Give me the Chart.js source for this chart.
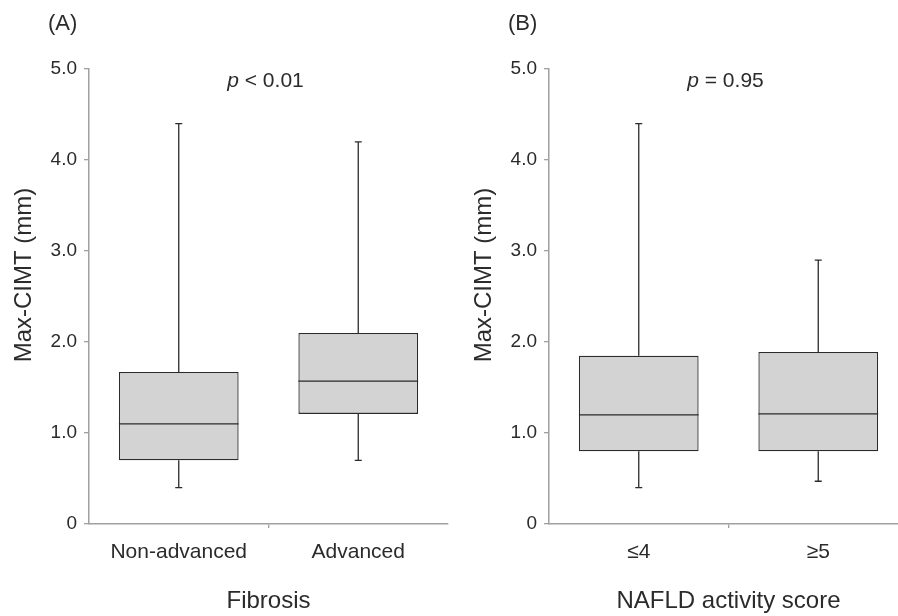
<!DOCTYPE html>
<html>
<head>
<meta charset="utf-8">
<script src="https://cdn.jsdelivr.net/npm/chart.js@4.4.1/dist/chart.umd.min.js"></script>
<style>
  html, body { margin: 0; padding: 0; background: #fff; overflow: hidden; }
  #wrap { position: relative; width: 898px; height: 616px; overflow: hidden; }
  canvas { position: absolute; top: 0; }
</style>
</head>
<body>
<div id="wrap">
  <canvas id="chartA" width="449" height="616" style="left:0"></canvas>
  <canvas id="chartB" width="449" height="616" style="left:460px"></canvas>
</div>
<script>
// Panel A: fibrosis
const categoriesA = ['Non-advanced', 'Advanced'];
const minA = [0.40, 0.70];
const q1A = [0.70, 1.21];
const medA = [1.10, 1.57];
const q3A = [1.67, 2.10];
const maxA = [4.40, 4.20];

// Panel B: NAFLD activity score
const categoriesB = ['≤4', '≥5'];
const minB = [0.40, 0.47];
const q1B = [0.80, 0.80];
const medB = [1.20, 1.21];
const q3B = [1.85, 1.89];
const maxB = [4.40, 2.90];

const yTicks = [0, 1, 2, 3, 4, 5];
const yTickLabels = ['0', '1.0', '2.0', '3.0', '4.0', '5.0'];
const yTitle = 'Max-CIMT (mm)';

const FONT = "'Liberation Sans', Arial, sans-serif";
const INK = '#2b2b2b';
const AXIS = '#a0a0a0';

// whiskers, caps and median line on top of the floating bars
const boxWhisker = {
    id: 'boxWhisker',
    afterDatasetsDraw(chart, args, opts) {
        const ctx = chart.ctx;
        const y = chart.scales.y;
        const meta = chart.getDatasetMeta(0);
        ctx.save();
        ctx.strokeStyle = INK;
        ctx.lineWidth = 1.3;
        meta.data.forEach((bar, i) => {
            const x = bar.x;
            const half = bar.width / 2;
            const yMed = y.getPixelForValue(opts.med[i]);
            const yQ1 = y.getPixelForValue(opts.q1[i]);
            const yQ3 = y.getPixelForValue(opts.q3[i]);
            const yMin = y.getPixelForValue(opts.min[i]);
            const yMax = y.getPixelForValue(opts.max[i]);
            ctx.beginPath();
            ctx.moveTo(x - half, yMed); ctx.lineTo(x + half, yMed);
            ctx.moveTo(x, yQ3); ctx.lineTo(x, yMax);
            ctx.moveTo(x - 3.5, yMax); ctx.lineTo(x + 3.5, yMax);
            ctx.moveTo(x, yQ1); ctx.lineTo(x, yMin);
            ctx.moveTo(x - 3.5, yMin); ctx.lineTo(x + 3.5, yMin);
            ctx.stroke();
        });
        ctx.restore();
    }
};

// panel letter, p value and y title
const annot = {
    id: 'annot',
    afterDraw(chart, args, opts) {
        const ctx = chart.ctx;
        ctx.save();
        ctx.fillStyle = INK;
        ctx.textBaseline = 'middle';
        ctx.font = '22px ' + FONT;
        ctx.textAlign = 'left';
        ctx.fillText(opts.letter, 48, 24);

        const pFont = 'italic 21px ' + FONT;
        const rFont = '21px ' + FONT;
        ctx.font = pFont;
        const w1 = ctx.measureText('p').width;
        ctx.font = rFont;
        const w2 = ctx.measureText(opts.pText).width;
        const cx = (chart.chartArea.left + chart.chartArea.right) / 2 - 3;
        const x0 = cx - (w1 + w2) / 2;
        ctx.font = pFont;
        ctx.fillText('p', x0, 81);
        ctx.font = rFont;
        ctx.fillText(opts.pText, x0 + w1, 81);

        ctx.translate(24, 275);
        ctx.rotate(-Math.PI / 2);
        ctx.textAlign = 'center';
        ctx.font = '24px ' + FONT;
        ctx.fillText(yTitle, 0, 0);
        ctx.restore();
    }
};

function makeChart(id, cats, mn, q1, md, q3, mx, xTitle, letter, pText) {
    const ctx = document.getElementById(id).getContext('2d');
    return new Chart(ctx, {
        type: 'bar',
        data: {
            labels: cats,
            datasets: [{
                data: q1.map((v, i) => [v, q3[i]]),
                backgroundColor: '#d3d3d3',
                borderColor: INK,
                borderWidth: 1.3,
                borderSkipped: false,
                barPercentage: 0.667,
                categoryPercentage: 1.0
            }]
        },
        options: {
            responsive: false,
            animation: false,
            devicePixelRatio: 1,
            layout: { padding: { top: 69, right: 1, left: 0, bottom: 0 } },
            scales: {
                y: {
                    min: 0,
                    max: 5,
                    afterFit: (s) => { s.width = 89; },
                    afterBuildTicks: (s) => { s.ticks = yTicks.map(v => ({ value: v })); },
                    ticks: {
                        padding: 7,
                        color: INK,
                        font: { family: FONT, size: 19 },
                        callback: (v) => yTickLabels[yTicks.indexOf(v)]
                    },
                    grid: { drawOnChartArea: false, drawTicks: true, tickLength: 5, color: AXIS, lineWidth: 1.3 },
                    border: { color: AXIS, width: 1.5 }
                },
                x: {
                    afterFit: (s) => { s.height = 92; },
                    ticks: {
                        padding: 12,
                        color: INK,
                        font: { family: FONT, size: 21 }
                    },
                    grid: {
                        drawOnChartArea: false,
                        drawTicks: true,
                        tickLength: 4,
                        offset: true,
                        color: (c) => c.index === 1 ? AXIS : 'rgba(0,0,0,0)',
                        lineWidth: 1.3
                    },
                    border: { color: AXIS, width: 1.5 },
                    title: {
                        display: true,
                        text: xTitle,
                        color: INK,
                        font: { family: FONT, size: 24 },
                        padding: { top: 0, bottom: 0 }
                    }
                }
            },
            plugins: {
                legend: { display: false },
                tooltip: { enabled: false },
                boxWhisker: { min: mn, q1: q1, med: md, q3: q3, max: mx },
                annot: { letter: letter, pText: pText }
            }
        },
        plugins: [boxWhisker, annot]
    });
}

makeChart('chartA', categoriesA, minA, q1A, medA, q3A, maxA, 'Fibrosis', '(A)', ' < 0.01');
makeChart('chartB', categoriesB, minB, q1B, medB, q3B, maxB, 'NAFLD activity score', '(B)', ' = 0.95');
</script>
</body>
</html>
